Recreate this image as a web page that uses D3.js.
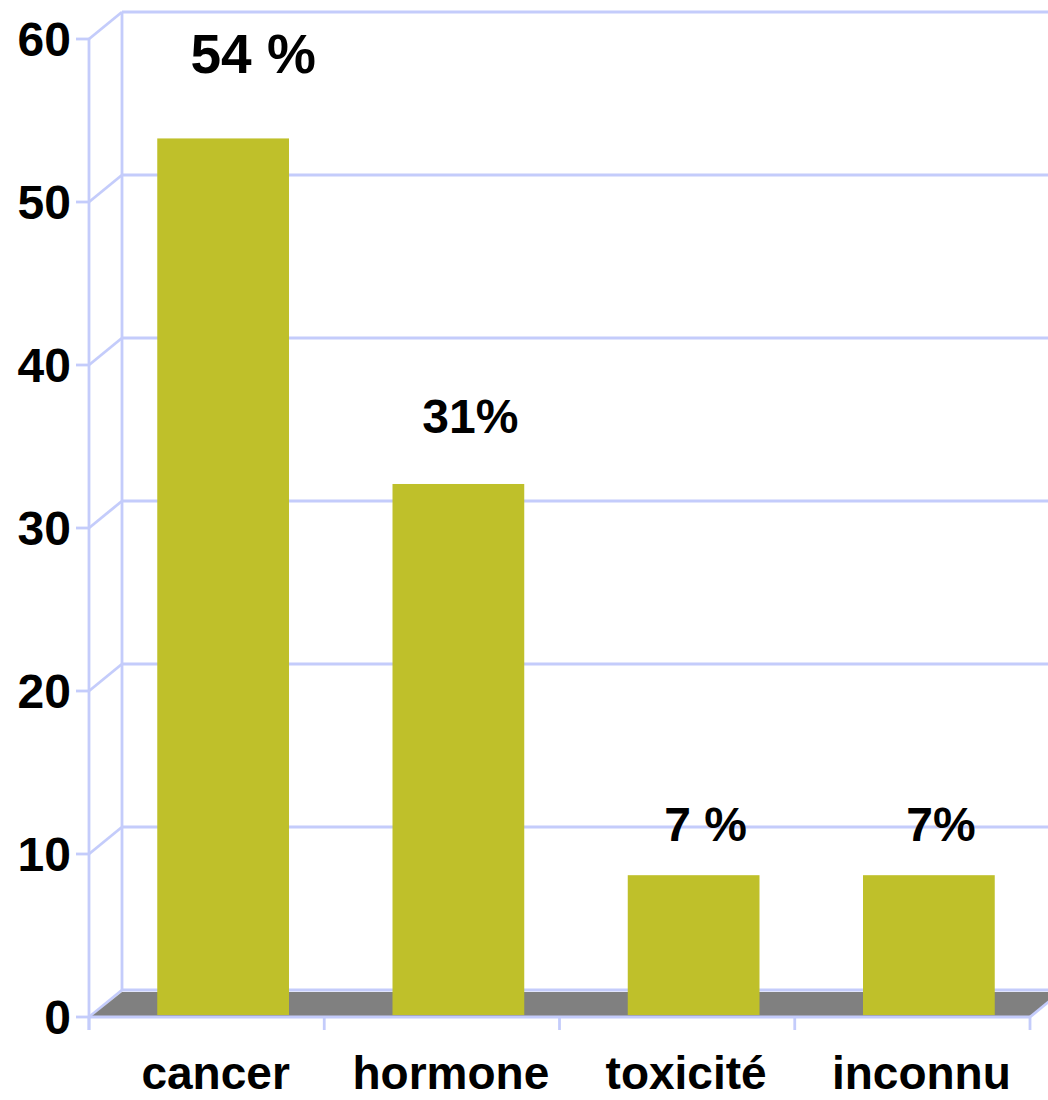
<!DOCTYPE html>
<html><head><meta charset="utf-8">
<script src="https://cdn.jsdelivr.net/npm/d3@7"></script>
<style>body{margin:0;background:#fff}svg{display:block}text{font-family:"Liberation Sans",Arial,sans-serif;font-weight:bold;fill:#000}</style>
</head><body>
<svg id="c" width="1048" height="1100"></svg>
<script>
const categories = ["cancer","hormone","toxicité","inconnu"];
const values = [53.9, 32.7, 8.7, 8.7];
const valueLabels = ["54 %","31%","7 %","7%"];
const yTicks = [0,10,20,30,40,50,60];

const svg = d3.select("#c");
const W = 1048;
const dx = 33, dy = -27;           // depth offset of back wall
const grid = "#c4ccfb";
const yF = d3.scaleLinear().domain([0,60]).range([1017,39]);
const xF = d3.scaleBand().domain(categories).range([89,1030]);
const xBar = d3.scaleBand().domain(categories).range([89+dx/2,1030+dx/2]).paddingInner(0.44).paddingOuter(0.22);

// back wall gridlines
const g = svg.append("g");
yTicks.forEach(t=>{
  g.append("line").attr("x1",89+dx).attr("x2",W+40).attr("y1",yF(t)+dy).attr("y2",yF(t)+dy)
   .attr("stroke",grid).attr("stroke-width",2.8);
  g.append("line").attr("x1",89).attr("x2",89+dx).attr("y1",yF(t)).attr("y2",yF(t)+dy)
   .attr("stroke",grid).attr("stroke-width",2.8);
});
g.append("line").attr("x1",89+dx).attr("x2",89+dx).attr("y1",yF(60)+dy).attr("y2",yF(0)+dy)
 .attr("stroke",grid).attr("stroke-width",2.8);

// floor
const y0 = yF(0);
svg.append("path")
  .attr("d",`M${89+3},${y0-1}L${89+dx},${y0+dy+2}L${1030+dx},${y0+dy+2}L${1030},${y0-1}Z`)
  .attr("fill","#808080");

// front axes
svg.append("line").attr("x1",89).attr("x2",89).attr("y1",yF(60)).attr("y2",y0+13).attr("stroke",grid).attr("stroke-width",2.8);
svg.append("line").attr("x1",89).attr("x2",1030).attr("y1",y0).attr("y2",y0).attr("stroke",grid).attr("stroke-width",2.8);
svg.append("line").attr("x1",1030).attr("x2",1030+dx).attr("y1",y0).attr("y2",y0+dy).attr("stroke",grid).attr("stroke-width",2.8);
yTicks.forEach(t=>{
  svg.append("line").attr("x1",76).attr("x2",89).attr("y1",yF(t)).attr("y2",yF(t)).attr("stroke",grid).attr("stroke-width",2.8);
});
const xTickPos = categories.map(c=>xF(c)).concat([1030]);
xTickPos.forEach(x=>{
  svg.append("line").attr("x1",x).attr("x2",x).attr("y1",y0).attr("y2",y0+13).attr("stroke",grid).attr("stroke-width",2.8);
});

// bars
svg.selectAll("rect.bar").data(values).join("rect").attr("class","bar")
  .attr("x",(d,i)=>xBar(categories[i]))
  .attr("width",xBar.bandwidth())
  .attr("y",d=>yF(d))
  .attr("height",d=>y0-2-yF(d))
  .attr("fill","#bfc02a");

// value labels
svg.selectAll("text.val").data(values).join("text").attr("class","val")
  .attr("x",(d,i)=>xBar(categories[i])+xBar.bandwidth()/2+(i===0?30:12))
  .attr("y",d=>yF(d)-(28+0.7*d))
  .attr("text-anchor","middle")
  .style("font-size",(d,i)=>i===0?"55px":"48px")
  .text((d,i)=>valueLabels[i]);

// y tick labels
svg.selectAll("text.yt").data(yTicks).join("text").attr("class","yt")
  .attr("x",71).attr("y",d=>yF(d)).attr("dy","0.36em")
  .attr("text-anchor","end").style("font-size","48px").text(d=>d);

// category labels
svg.selectAll("text.cat").data(categories).join("text").attr("class","cat")
  .attr("x",d=>xF(d)+xF.bandwidth()/2+9).attr("y",1089)
  .attr("text-anchor","middle").style("font-size","46px").text(d=>d);
</script>
</body></html>
